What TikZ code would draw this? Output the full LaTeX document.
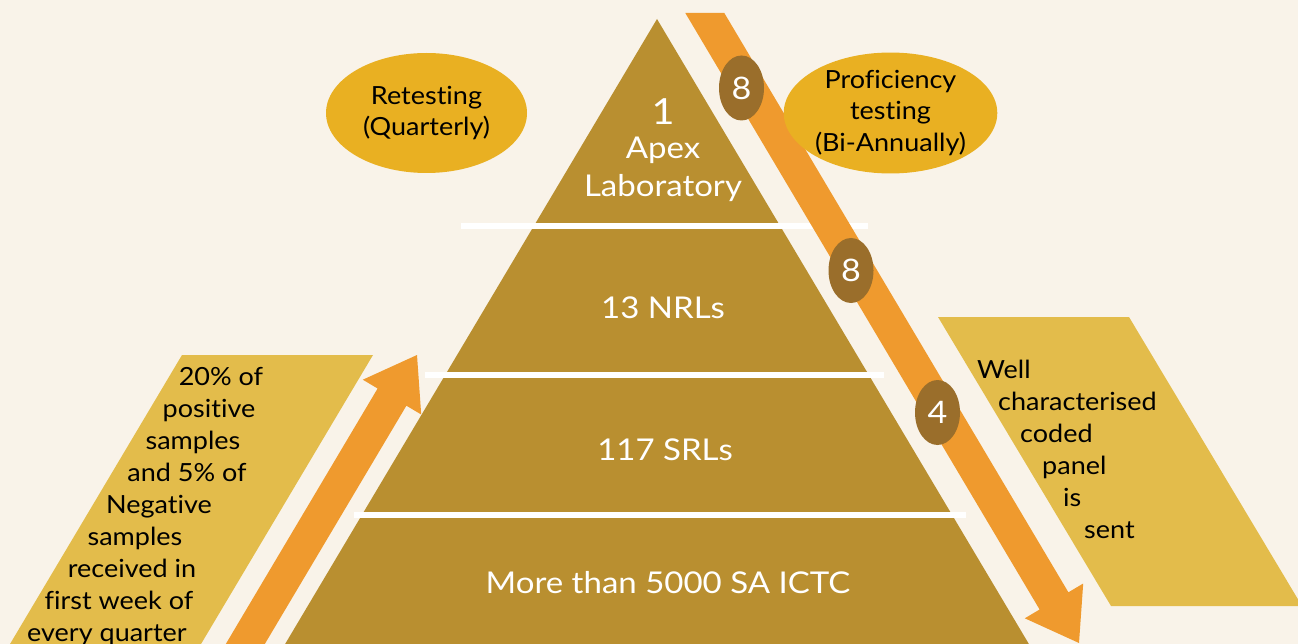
\documentclass[tikz,border=0pt]{standalone}
\usepackage{fontspec}
\setmainfont{Lato}[FakeStretch=1.08,Ligatures=NoCommon]
\newfontfamily\wfont{Lato}[FakeStretch=1.1,Ligatures=NoCommon]
\usetikzlibrary{shapes.geometric}
\definecolor{bgc}{RGB}{249,243,233}
\definecolor{pyrc}{RGB}{185,143,48}
\definecolor{orc}{RGB}{239,154,46}
\definecolor{parac}{RGB}{227,188,75}
\definecolor{ellc}{RGB}{233,176,34}
\definecolor{numc}{RGB}{154,110,43}
\begin{document}
\begin{tikzpicture}[x=1pt,y=-1pt,
  sepline/.style={white, line width=6pt},
  tiertext/.style={text=white, font=\wfont\fontsize{30}{36}\selectfont, anchor=base, inner sep=0pt},
  btext/.style={text=black, font=\fontsize{25}{31}\selectfont, inner sep=0pt},
  oval/.style={ellipse, fill=ellc, minimum width=201pt, minimum height=120pt, inner sep=0pt, align=center, font=\fontsize{25}{31.5}\selectfont},
  badge/.style={ellipse, fill=numc, minimum width=45pt, minimum height=65pt, inner sep=0pt, text=white, font=\wfont\fontsize{31}{31}\selectfont}
]
\useasboundingbox (0,0) rectangle (1298,644);
\clip (0,0) rectangle (1298,644);
\fill[bgc] (0,0) rectangle (1298,644);

% side panels
\fill[parac] (182,355) -- (373,355) -- (191.5,660) -- (0.5,660) -- cycle;
\fill[parac] (938,317) -- (1129,317) -- (1302,606) -- (1111,606) -- cycle;

% pyramid
\fill[pyrc] (657,19) -- (1038.4,660) -- (275.6,660) -- cycle;
\coordinate (s1a) at (461,226); \coordinate (s1b) at (868,226);
\coordinate (s2a) at (425,375); \coordinate (s2b) at (884,375);
\coordinate (s3a) at (354,515); \coordinate (s3b) at (966,515);
\draw[sepline] (s1a) -- (s1b);
\draw[sepline] (s2a) -- (s2b);
\draw[sepline] (s3a) -- (s3b);

% block arrows
\fill[orc] (685.3,13) -- (724.3,13) -- (1068.4,592.3) -- (1083.2,583.5) -- (1079,643) -- (1024.8,618.3) -- (1039.6,609.5) -- cycle;
\fill[orc] (216.3,660) -- (377.6,388.5) -- (362.8,379.7) -- (417,355) -- (421.2,414.5) -- (406.4,405.7) -- (255.3,660) -- cycle;

% pyramid labels
\node[tiertext, font=\wfont\fontsize{36}{36}\selectfont] (one) at (663,125) {1};
\node[tiertext] (apex) at (663,159) {Apex};
\node[tiertext] (lab) at (663,197) {Laboratory};
\node[tiertext] (nrl) at (663,319) {13 NRLs};
\node[tiertext] (srl) at (665,460) {117 SRLs};
\node[tiertext] (ictc) at (668,593) {More than 5000 SA ICTC};

% ovals
\node[oval] (retest) at (426.5,113) {Retesting\\(Quarterly)};
\node[oval] (prof) at (890.5,113) {Proficiency\\testing\\(Bi-Annually)};

% badges
\node[badge] (b1) at (741.5,88) {8};
\node[badge] (b2) at (851,270.5) {8};
\node[badge] (b3) at (937.5,412.5) {4};

% left panel text
\node[btext, anchor=base] (l1) at (221,385) {20\% of};
\node[btext, anchor=base] (l2) at (209,417) {positive};
\node[btext, anchor=base] (l3) at (193,449) {samples};
\node[btext, anchor=base] (l4) at (187,481) {and 5\% of};
\node[btext, anchor=base] (l5) at (159,513) {Negative};
\node[btext, anchor=base] (l6) at (135,545) {samples};
\node[btext, anchor=base] (l7) at (132,577) {received in};
\node[btext, anchor=base] (l8) at (119,609) {first week of};
\node[btext, anchor=base] (l9) at (107,641) {every quarter};

% right panel text
\node[btext, anchor=base west] (r1) at (977,378) {Well};
\node[btext, anchor=base west] (r2) at (998,410) {characterised};
\node[btext, anchor=base west] (r3) at (1020,442) {coded};
\node[btext, anchor=base west] (r4) at (1042,474) {panel};
\node[btext, anchor=base west] (r5) at (1063,506) {is};
\node[btext, anchor=base west] (r6) at (1084,538) {sent};
\end{tikzpicture}
\end{document}
